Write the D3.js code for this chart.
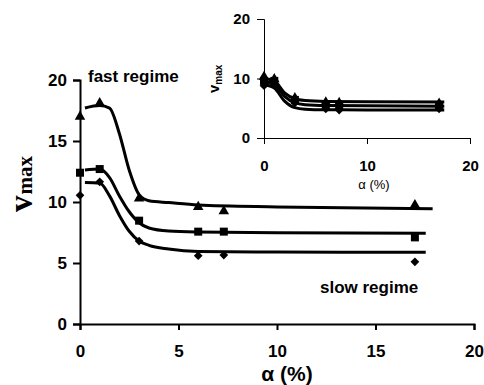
<html lang="en">
<head>
<style>
  body { margin: 0; background: #fff; }
  text { font-family: "Liberation Sans", Arial, sans-serif; fill: #000; }
  .tick text { font-weight: bold; }
</style>
</head>
<body>
<svg width="484" height="385"></svg>
<script src="https://d3js.org/d3.v7.min.js"></script>
<script>
// measured points (alpha in %)
var alpha = [0, 1, 3, 6, 7.3, 17];
var fastV = [17.0, 18.1, 10.3, 9.6, 9.25, 9.75];
var midV = [12.4, 12.7, 8.47, 7.57, 7.57, 7.1];
var slowV = [10.55, 11.65, 6.8, 5.6, 5.65, 5.1];

// fitted curves
var fitXFast = [0.25, 1.0, 1.5, 2.0, 2.5, 3.0, 3.5, 4.5, 6, 10, 17.9];
var fitFast = [17.7, 17.9, 17.7, 15.6, 12.6, 10.6, 10.1, 9.95, 9.75, 9.6, 9.45];
var fitX = [0.25, 1.0, 1.5, 2.0, 2.5, 3.0, 3.5, 4.5, 6, 10, 17.55];
var fitMid = [12.62, 12.7, 12.0, 10.5, 9.2, 8.3, 7.87, 7.62, 7.54, 7.48, 7.43];
var fitSlow = [11.6, 11.55, 10.5, 8.9, 7.6, 6.8, 6.45, 6.15, 5.95, 5.9, 5.88];

// inset
var insetA = [10.3, 9.9, 6.7, 6.0, 5.9, 5.8];
var insetB = [9.6, 9.6, 6.4, 5.6, 5.5, 5.4];
var insetC = [8.8, 9.0, 5.9, 4.9, 4.7, 4.9];
var insetFitX = [0, 1, 2, 3, 4, 6, 10, 17.5];
var insetFitA = [10.0, 9.6, 7.6, 6.6, 6.3, 6.15, 6.1, 6.05];
var insetFitB = [9.5, 9.0, 7.0, 5.9, 5.6, 5.45, 5.4, 5.35];
var insetFitC = [9.0, 8.4, 6.2, 5.1, 4.85, 4.75, 4.72, 4.7];

var mainTicks = [0, 5, 10, 15, 20];
var insetTicks = [0, 10, 20];

var svg = d3.select("svg");

function shape(type) {
  if (type == "tri") return d3.symbol(d3.symbolTriangle, 48)();
  if (type == "sq") return d3.symbol(d3.symbolSquare, 64)();
  return d3.symbol(d3.symbolSquare, 38)();
}

function drawPanel(g, x, y, ticks, axisW, fs, padX, padY) {
  var xa = g.append("g")
    .attr("transform", "translate(0," + y(0) + ")")
    .call(d3.axisBottom(x).tickValues(ticks).tickSize(6).tickPadding(padX));
  var ya = g.append("g")
    .attr("transform", "translate(" + x(0) + ",0)")
    .call(d3.axisLeft(y).tickValues(ticks).tickSize(7).tickPadding(padY));
  [xa, ya].forEach(function(a) {
    a.select(".domain").attr("stroke-width", axisW);
    a.selectAll(".tick line").attr("stroke-width", axisW);
    a.selectAll(".tick text").attr("font-size", fs);
  });
}

function drawSeries(g, x, y, xs, vs, type, fx, fv, lw) {
  var line = d3.line()
    .x(function(d) { return x(d[0]); })
    .y(function(d) { return y(d[1]); })
    .curve(d3.curveMonotoneX);
  g.append("path")
    .datum(d3.zip(fx, fv))
    .attr("d", line)
    .attr("fill", "none")
    .attr("stroke", "#000")
    .attr("stroke-width", lw);
  g.selectAll(null)
    .data(d3.zip(xs, vs))
    .enter().append("path")
    .attr("d", shape(type))
    .attr("transform", function(d) {
      return "translate(" + x(d[0]) + "," + y(d[1]) + ")" + (type == "dia" ? " rotate(45)" : "");
    })
    .attr("fill", "#000");
}

// main chart
var x = d3.scaleLinear().domain([0, 20]).range([80, 474]);
var y = d3.scaleLinear().domain([0, 20]).range([324, 80]);
var main = svg.append("g");
drawPanel(main, x, y, mainTicks, 2, 17, 15, 6);
drawSeries(main, x, y, alpha, fastV, "tri", fitXFast, fitFast, 3);
drawSeries(main, x, y, alpha, midV, "sq", fitX, fitMid, 3);
drawSeries(main, x, y, alpha, slowV, "dia", fitX, fitSlow, 3);

main.append("text").attr("x", 88).attr("y", 82)
  .attr("font-size", 17).attr("font-weight", "bold").text("fast regime");
main.append("text").attr("x", 320).attr("y", 293)
  .attr("font-size", 17).attr("font-weight", "bold").text("slow regime");
main.append("text").attr("x", 287).attr("y", 381)
  .attr("text-anchor", "middle").attr("font-size", 21).attr("font-weight", "bold")
  .text("α (%)");
var vt = main.append("text")
  .attr("transform", "translate(32,212) rotate(-90)")
  .style("font-family", "'Liberation Serif', 'Times New Roman', serif")
  .attr("font-weight", "bold");
vt.append("tspan").attr("font-size", 33).text("v");
vt.append("tspan").attr("font-size", 21).attr("dx", 1).text("max");

// inset
var xi = d3.scaleLinear().domain([0, 20]).range([264, 470]);
var yi = d3.scaleLinear().domain([0, 20]).range([138, 19]);
var inset = svg.append("g");
drawPanel(inset, xi, yi, insetTicks, 1, 15, 16, 7);
drawSeries(inset, xi, yi, alpha, insetA, "tri", insetFitX, insetFitA, 3);
drawSeries(inset, xi, yi, alpha, insetB, "sq", insetFitX, insetFitB, 3);
drawSeries(inset, xi, yi, alpha, insetC, "dia", insetFitX, insetFitC, 3);

inset.append("text").attr("x", 374).attr("y", 189)
  .attr("text-anchor", "middle").attr("font-size", 13).text("α (%)");
var vi = inset.append("text")
  .attr("transform", "translate(219,93) rotate(-90)")
  .attr("font-weight", "bold");
vi.append("tspan").attr("font-size", 15).text("v");
vi.append("tspan").attr("font-size", 10).attr("dy", 3).text("max");
</script>
</body>
</html>
